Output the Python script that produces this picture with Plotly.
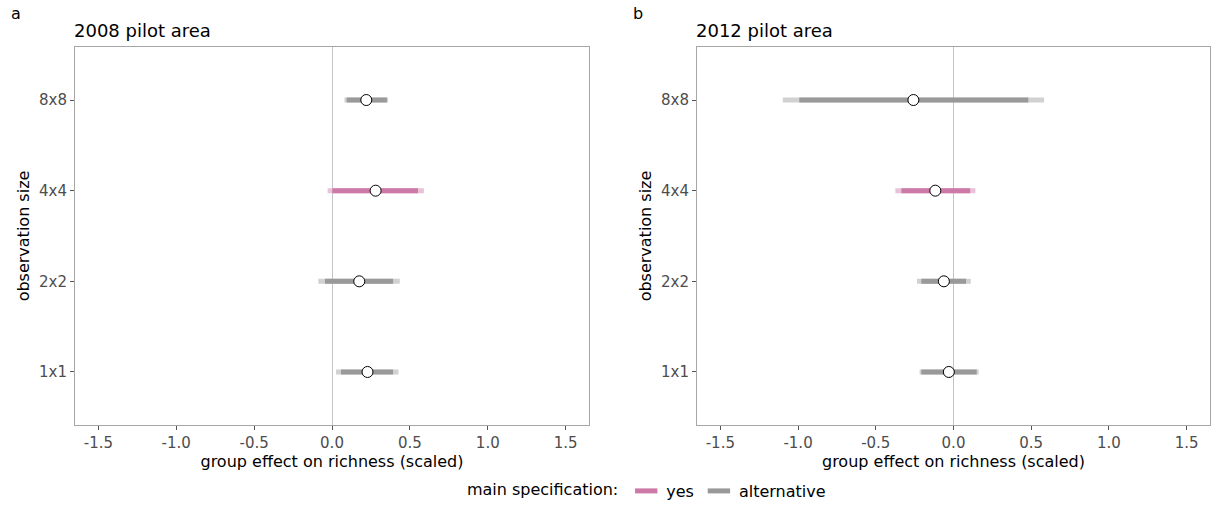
import plotly.graph_objects as go

sizes = ["1x1", "2x2", "4x4", "8x8"]
main_spec = ["alternative", "alternative", "yes", "alternative"]
panel_titles = ["2008 pilot area", "2012 pilot area"]
panel_tags = ["a", "b"]

est_2008 = [0.228, 0.175, 0.28, 0.22]
inner_lo_2008 = [0.058, -0.045, 0.004, 0.094]
inner_hi_2008 = [0.392, 0.392, 0.552, 0.352]
outer_lo_2008 = [0.026, -0.088, -0.028, 0.08]
outer_hi_2008 = [0.427, 0.435, 0.59, 0.36]

est_2012 = [-0.030, -0.062, -0.117, -0.258]
inner_lo_2012 = [-0.207, -0.207, -0.335, -0.992]
inner_hi_2012 = [0.149, 0.081, 0.107, 0.481]
outer_lo_2012 = [-0.218, -0.235, -0.374, -1.098]
outer_hi_2012 = [0.162, 0.111, 0.141, 0.583]

x_ticks = [-1.5, -1.0, -0.5, 0.0, 0.5, 1.0, 1.5]

FONT = "DejaVu Sans"
dark = {"yes": "#CC79A7", "alternative": "#999999"}
light = {"yes": "rgba(204,121,167,0.45)", "alternative": "rgba(153,153,153,0.45)"}

panels = [
    (est_2008, inner_lo_2008, inner_hi_2008, outer_lo_2008, outer_hi_2008),
    (est_2012, inner_lo_2012, inner_hi_2012, outer_lo_2012, outer_hi_2012),
]

fig = go.Figure()


def segs(lo, hi, group):
    xs, ys = [], []
    for i, s in enumerate(sizes):
        if main_spec[i] == group:
            xs += [lo[i], hi[i], None]
            ys += [s, s, None]
    return xs, ys


for p, (est, ilo, ihi, olo, ohi) in enumerate(panels):
    xa = "x" if p == 0 else "x2"
    ya = "y" if p == 0 else "y2"
    for group in ["alternative", "yes"]:
        xs, ys = segs(olo, ohi, group)
        fig.add_trace(go.Scatter(x=xs, y=ys, mode="lines", xaxis=xa, yaxis=ya,
                                 line=dict(color=light[group], width=5),
                                 showlegend=False, hoverinfo="skip"))
        xs, ys = segs(ilo, ihi, group)
        fig.add_trace(go.Scatter(x=xs, y=ys, mode="lines", xaxis=xa, yaxis=ya,
                                 line=dict(color=dark[group], width=5),
                                 showlegend=False, hoverinfo="skip"))
    fig.add_trace(go.Scatter(x=est, y=sizes, mode="markers", xaxis=xa, yaxis=ya,
                             marker=dict(size=11, color="white",
                                         line=dict(color="black", width=1)),
                             showlegend=False))

# legend keys
for group, name in [("yes", "yes"), ("alternative", "alternative")]:
    fig.add_trace(go.Scatter(x=[None], y=[None], mode="markers", name=name,
                             marker=dict(symbol="line-ew", size=16,
                                         line=dict(color=dark[group], width=5)),
                             showlegend=True))

dom_x = [[75 / 1211, 589 / 1211], [697 / 1211, 1210 / 1211]]
dom_y = [(508 - 425) / 508, (508 - 47) / 508]

axis_common = dict(
    range=[-1.65, 1.65], tickvals=x_ticks,
    ticktext=[f"{v:.1f}" for v in x_ticks],
    showgrid=False, showline=True, mirror=True, linecolor="#a6a6a6", linewidth=1,
    ticks="outside", ticklen=4, tickcolor="#555555", tickwidth=1,
    tickfont=dict(family=FONT, size=15, color="#4d4d4d"),
    zeroline=True, zerolinecolor="#c4c4c4", zerolinewidth=1,
    title=dict(text="group effect on richness (scaled)",
               font=dict(family=FONT, size=16, color="black"), standoff=0),
)
yaxis_common = dict(
    type="category", categoryorder="array", categoryarray=sizes,
    range=[-0.585, 3.585], showgrid=False, showline=True, mirror=True,
    linecolor="#a6a6a6", linewidth=1, zeroline=False,
    ticks="outside", ticklen=4, tickcolor="#555555", tickwidth=1,
    tickfont=dict(family=FONT, size=15, color="#4d4d4d"),
    title=dict(text="observation size", font=dict(family=FONT, size=16, color="black"),
               standoff=5),
)

fig.update_layout(
    width=1211, height=508,
    margin=dict(l=0, r=0, t=0, b=0),
    plot_bgcolor="white", paper_bgcolor="white",
    font=dict(family=FONT, color="black"),
    xaxis=dict(domain=dom_x[0], anchor="y", **axis_common),
    xaxis2=dict(domain=dom_x[1], anchor="y2", **axis_common),
    yaxis=dict(domain=dom_y, anchor="x", **yaxis_common),
    yaxis2=dict(domain=dom_y, anchor="x2", **yaxis_common),
    legend=dict(orientation="h", x=0.535, xanchor="center", y=0, yanchor="bottom",
                title=dict(text="main specification:", font=dict(family=FONT, size=16)),
                font=dict(family=FONT, size=16), itemsizing="trace",
                itemwidth=30, tracegroupgap=0),
    showlegend=True,
)

annotations = []
for p in range(2):
    annotations.append(dict(text=panel_titles[p], xref="paper", yref="paper",
                            x=dom_x[p][0], y=(508 - 30) / 508, xanchor="left",
                            yanchor="middle", showarrow=False, xshift=-3,
                            font=dict(family=FONT, size=18, color="black")))
    annotations.append(dict(text=panel_tags[p], xref="paper", yref="paper",
                            x=(9 if p == 0 else 631) / 1211, y=(508 - 14) / 508,
                            xanchor="left", yanchor="middle", showarrow=False,
                            font=dict(family=FONT, size=16, color="black")))
fig.update_layout(annotations=annotations)

fig.write_html("out.html")
